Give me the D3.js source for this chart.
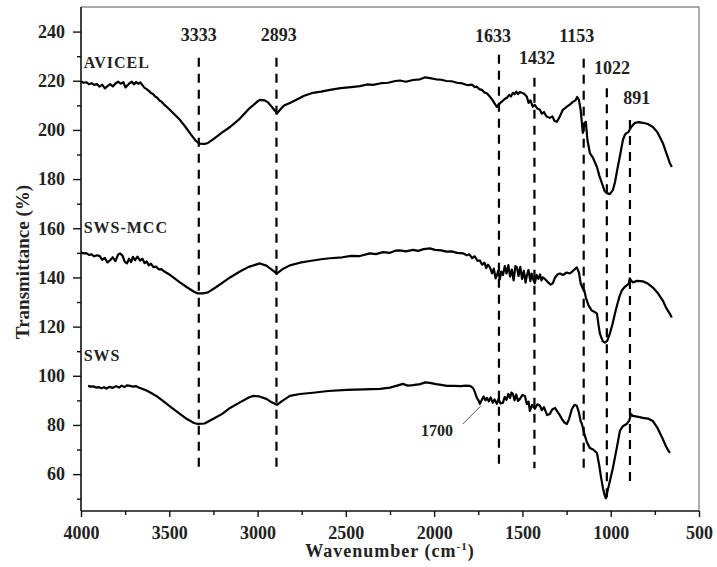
<!DOCTYPE html>
<html>
<head>
<meta charset="utf-8">
<script src="https://cdn.jsdelivr.net/npm/d3@7"></script>
<style>
  body { margin: 0; background: #fff; }
  svg text { font-family: "Liberation Serif", "Times New Roman", serif; font-weight: bold; fill: #222; }
</style>
</head>
<body>
<svg id="svg" width="717" height="567"></svg>
<script>
// spectra: [wavenumber, transmittance]
const avicel = [[4000,219.7],[3985,219.2],[3970,219.4],[3955,218.6],[3940,219.0],[3925,218.3],[3910,218.7],[3895,217.6],[3880,218.4],[3865,216.9],[3850,217.8],[3835,218.6],[3820,217.7],[3805,218.9],[3790,219.6],[3775,218.8],[3760,219.4],[3748,217.3],[3738,218.1],[3725,219.0],[3712,219.6],[3700,218.5],[3688,219.5],[3676,218.8],[3664,219.3],[3652,218.2],[3640,217.1],[3628,216.6],[3616,215.9],[3604,215.0],[3592,214.6],[3580,213.6],[3568,213.1],[3556,212.0],[3544,211.5],[3530,210.4],[3500,208.4],[3470,206.3],[3440,204.1],[3410,201.4],[3380,198.4],[3350,195.6],[3330,194.4],[3300,194.3],[3281,194.7],[3250,196.3],[3200,199.0],[3156,201.2],[3100,204.6],[3050,208.5],[3000,211.6],[2987,212.2],[2960,212.0],[2941,211.2],[2915,209.0],[2890,206.8],[2870,208.4],[2850,209.9],[2817,211.0],[2780,212.3],[2740,213.8],[2686,215.1],[2640,215.6],[2590,216.3],[2530,217.0],[2470,217.4],[2420,217.8],[2380,218.5],[2347,218.3],[2300,219.0],[2260,219.2],[2220,219.9],[2194,220.1],[2160,219.6],[2120,220.3],[2080,220.6],[2050,221.4],[2024,221.1],[1990,220.6],[1960,220.4],[1930,219.9],[1900,219.8],[1871,219.2],[1840,218.9],[1810,218.2],[1785,218.4],[1770,217.4],[1758,217.6],[1745,216.6],[1730,216.3],[1715,215.2],[1700,214.8],[1684,213.5],[1670,212.2],[1658,210.8],[1645,209.4],[1635,210.3],[1625,211.0],[1612,211.8],[1600,212.6],[1588,213.1],[1575,214.2],[1565,213.6],[1554,215.1],[1545,214.5],[1535,215.6],[1525,214.6],[1515,215.4],[1503,215.1],[1490,214.7],[1475,213.5],[1465,211.0],[1455,212.0],[1441,209.4],[1430,210.2],[1415,208.7],[1401,208.2],[1390,206.6],[1378,207.3],[1365,205.6],[1345,204.9],[1330,205.5],[1318,203.6],[1305,203.3],[1290,205.2],[1271,208.2],[1250,209.4],[1230,210.4],[1214,211.4],[1200,212.0],[1190,213.4],[1180,212.2],[1170,208.0],[1158,198.8],[1150,202.6],[1141,203.3],[1132,196.0],[1118,190.6],[1100,188.6],[1078,184.9],[1065,181.5],[1050,178.4],[1035,175.2],[1022,174.3],[1005,173.9],[988,175.5],[975,179.0],[960,184.9],[945,190.4],[931,195.9],[920,198.0],[909,198.8],[900,199.1],[892,200.2],[880,201.5],[863,202.9],[840,203.2],[818,202.9],[790,202.4],[761,201.2],[735,199.0],[705,194.7],[685,190.6],[665,186.5],[654,184.9]];

const swsMcc = [[4000,150.1],[3985,149.8],[3970,149.9],[3955,149.2],[3940,149.4],[3925,148.6],[3910,149.0],[3895,148.8],[3880,147.2],[3865,147.9],[3850,146.1],[3835,147.0],[3820,148.2],[3805,146.6],[3790,149.3],[3779,149.8],[3765,148.9],[3752,146.3],[3740,145.7],[3728,147.6],[3716,146.2],[3706,148.4],[3694,147.0],[3680,148.5],[3666,146.9],[3652,147.6],[3640,145.8],[3628,146.5],[3616,144.9],[3604,145.6],[3590,144.2],[3575,144.4],[3560,143.3],[3545,143.4],[3530,142.5],[3500,141.2],[3470,139.6],[3440,138.0],[3400,136.0],[3360,134.2],[3338,133.5],[3310,133.5],[3281,133.9],[3240,135.8],[3200,137.8],[3156,140.0],[3100,142.4],[3050,144.3],[2987,145.7],[2950,144.8],[2920,143.2],[2890,141.6],[2860,143.3],[2817,144.9],[2760,146.0],[2686,146.9],[2640,147.4],[2590,147.8],[2520,148.2],[2470,148.8],[2420,148.7],[2364,149.8],[2330,149.5],[2290,150.3],[2250,150.0],[2220,150.9],[2194,151.0],[2160,150.6],[2120,151.2],[2090,150.8],[2060,151.5],[2024,151.8],[1995,151.2],[1960,151.0],[1930,150.5],[1900,150.6],[1870,150.0],[1837,149.8],[1815,149.0],[1800,149.4],[1785,147.9],[1770,148.6],[1755,146.8],[1741,146.9],[1728,145.2],[1715,146.0],[1705,143.8],[1695,145.2],[1684,144.1],[1672,141.7],[1662,143.6],[1652,139.6],[1645,140.8],[1637,142.8],[1628,139.2],[1620,142.4],[1610,141.0],[1600,144.6],[1590,141.6],[1580,145.0],[1570,140.4],[1560,143.2],[1550,138.8],[1540,144.6],[1531,144.1],[1522,140.6],[1512,144.3],[1502,139.4],[1492,142.7],[1482,137.9],[1475,140.8],[1466,143.0],[1455,138.5],[1448,141.6],[1441,139.6],[1430,137.6],[1420,141.0],[1410,139.4],[1400,141.2],[1392,138.8],[1384,140.0],[1370,139.2],[1355,138.0],[1340,137.1],[1328,137.6],[1315,140.0],[1300,141.3],[1288,141.6],[1270,141.0],[1250,142.0],[1231,141.6],[1215,142.6],[1200,143.6],[1192,144.1],[1180,142.0],[1170,137.5],[1158,135.5],[1150,134.8],[1140,131.6],[1125,128.5],[1107,126.5],[1090,125.9],[1078,125.3],[1068,120.2],[1061,117.1],[1045,114.0],[1033,113.5],[1020,114.2],[1005,117.1],[990,121.0],[976,125.3],[960,129.8],[950,132.3],[937,134.7],[920,136.2],[909,136.7],[898,137.5],[892,139.6],[885,138.8],[875,138.0],[850,138.6],[818,138.4],[790,137.5],[761,135.9],[735,133.8],[705,130.6],[685,127.5],[665,125.2],[654,123.7]];

const sws = [[3960,95.9],[3945,95.6],[3930,95.7],[3915,95.2],[3900,95.4],[3885,94.9],[3870,95.3],[3855,94.8],[3840,95.5],[3819,95.1],[3800,95.8],[3785,95.2],[3770,96.0],[3755,95.4],[3740,96.1],[3723,95.9],[3705,95.6],[3690,95.8],[3670,95.1],[3650,94.6],[3626,93.9],[3600,92.9],[3570,91.6],[3536,89.8],[3500,87.8],[3470,86.1],[3440,84.5],[3400,82.4],[3360,80.8],[3338,80.4],[3300,80.6],[3253,82.4],[3200,84.5],[3156,86.9],[3100,89.2],[3050,91.2],[3026,91.8],[2990,91.6],[2950,90.6],[2920,89.2],[2890,88.2],[2860,89.8],[2817,91.8],[2760,92.6],[2686,93.1],[2600,93.8],[2494,94.3],[2400,94.5],[2307,94.7],[2250,95.2],[2210,96.0],[2177,96.7],[2150,96.0],[2120,96.2],[2080,96.6],[2050,97.3],[2024,97.1],[1990,96.6],[1960,96.3],[1928,95.9],[1890,95.9],[1850,95.8],[1820,96.0],[1797,95.9],[1780,95.1],[1770,93.5],[1758,91.0],[1748,89.9],[1741,88.6],[1730,90.2],[1720,91.6],[1710,90.0],[1701,91.0],[1690,89.6],[1680,91.2],[1668,89.0],[1658,90.4],[1645,88.6],[1635,90.6],[1625,88.8],[1611,89.0],[1600,91.4],[1590,90.2],[1580,92.6],[1570,91.0],[1562,93.2],[1554,92.7],[1545,90.0],[1535,92.4],[1525,89.8],[1514,90.6],[1500,92.2],[1486,91.8],[1475,88.5],[1465,89.5],[1458,85.7],[1445,88.2],[1430,86.6],[1415,88.4],[1401,87.8],[1390,86.0],[1378,87.2],[1360,84.0],[1345,84.5],[1330,86.4],[1315,86.9],[1305,85.7],[1290,84.2],[1275,82.2],[1262,81.0],[1248,80.4],[1235,82.6],[1220,86.5],[1205,88.2],[1192,87.8],[1180,85.0],[1170,81.5],[1163,80.4],[1150,76.5],[1135,73.0],[1118,70.6],[1100,70.0],[1078,68.6],[1065,63.5],[1055,58.8],[1044,54.3],[1035,51.6],[1027,50.2],[1015,54.0],[1000,58.6],[988,62.4],[975,67.2],[960,72.8],[948,77.6],[930,79.6],[909,80.4],[895,81.8],[885,84.4],[875,83.7],[850,83.4],[818,82.9],[790,82.6],[761,81.6],[735,78.8],[705,74.3],[685,71.0],[665,68.6]];

const seriesNames = ["AVICEL", "SWS-MCC", "SWS"];
const seriesNameAt = [[3985, 225.3], [3985, 158], [3985, 106]];

// marked bands: wavenumber, dashed line from/to (transmittance), label anchor
const peaks = [3333, 2893, 1633, 1432, 1153, 1022, 891];
const peakTop = [229.4, 229.4, 230.6, 221.2, 229.0, 217.0, 204.0];
const peakBottom = [62.4, 62.4, 62.4, 62.4, 60.8, 50.6, 54.7];
const peakLabelAt = [[3333, 236.3], [2880, 236.3], [1667, 235.9], [1418, 226.9], [1192, 235.9], [993, 222.9], [852, 210.6]];

const xTicks = [4000, 3500, 3000, 2500, 2000, 1500, 1000, 500];
const xMinor = [3750, 3250, 2750, 2250, 1750, 1250, 750];
const yTicks = [60, 80, 100, 120, 140, 160, 180, 200, 220, 240];
const yMinor = [50, 70, 90, 110, 130, 150, 170, 190, 210, 230];

const svg = d3.select("#svg");
const L = 81, R = 699, T = 7, B = 511;
const x = d3.scaleLinear().domain([4000, 500]).range([L, R]);
const y = d3.scaleLinear().domain([45, 250]).range([B, T]);

// frame
svg.append("line").attr("x1", L).attr("x2", R).attr("y1", T).attr("y2", T)
   .attr("stroke", "#555").attr("stroke-width", 1.2);
svg.append("line").attr("x1", R).attr("x2", R).attr("y1", T).attr("y2", B)
   .attr("stroke", "#777").attr("stroke-width", 1.2);

// axes
const xAxis = svg.append("g").attr("transform", `translate(0,${B})`)
   .call(d3.axisBottom(x).tickValues(xTicks).tickSize(6).tickPadding(9).tickFormat(d3.format("d")));
svg.append("g").attr("transform", `translate(0,${B})`)
   .call(d3.axisBottom(x).tickValues(xMinor).tickSize(4).tickFormat(""))
   .select(".domain").remove();
const yAxis = svg.append("g").attr("transform", `translate(${L},0)`)
   .call(d3.axisLeft(y).tickValues(yTicks).tickSize(8).tickPadding(8).tickFormat(d3.format("d")));
svg.append("g").attr("transform", `translate(${L},0)`)
   .call(d3.axisLeft(y).tickValues(yMinor).tickSize(4).tickFormat(""))
   .select(".domain").remove();
xAxis.select(".domain").remove();
yAxis.select(".domain").remove();
svg.append("line").attr("x1", L).attr("x2", R).attr("y1", B).attr("y2", B)
   .attr("stroke", "#111").attr("stroke-width", 1.6);
svg.append("line").attr("x1", L).attr("x2", L).attr("y1", T).attr("y2", B)
   .attr("stroke", "#111").attr("stroke-width", 1.6);
svg.selectAll(".tick line").attr("stroke", "#111").attr("stroke-width", 1.4);
svg.selectAll(".tick text").style("font-size", "18px").attr("fill", "#222")
   .style("font-family", "'Liberation Serif', 'Times New Roman', serif").style("font-weight", "bold");

// dashed band markers
svg.selectAll(".peak").data(peaks).join("line")
   .attr("x1", d => x(d)).attr("x2", d => x(d))
   .attr("y1", (d, i) => y(peakTop[i])).attr("y2", (d, i) => y(peakBottom[i]))
   .attr("stroke", "#000").attr("stroke-width", 2.2).attr("stroke-dasharray", "9,7");
svg.selectAll(".peaklab").data(peaks).join("text")
   .attr("x", (d, i) => x(peakLabelAt[i][0])).attr("y", (d, i) => y(peakLabelAt[i][1]))
   .attr("text-anchor", "middle").style("font-size", "18px").text(d => d);

// spectra
const line = d3.line().x(d => x(d[0])).y(d => y(d[1]));
[avicel, swsMcc, sws].forEach(s => {
  svg.append("path").datum(s).attr("d", line)
     .attr("fill", "none").attr("stroke", "#000").attr("stroke-width", 2.2).attr("stroke-linejoin", "round");
});

svg.selectAll(".name").data(seriesNames).join("text")
   .attr("x", (d, i) => x(seriesNameAt[i][0])).attr("y", (d, i) => y(seriesNameAt[i][1]))
   .style("font-size", "16px").style("letter-spacing", "1px").text(d => d);

// 1700 shoulder annotation
svg.append("line").attr("x1", x(1837)).attr("y1", y(80.4)).attr("x2", x(1735)).attr("y2", y(87.8))
   .attr("stroke", "#555").attr("stroke-width", 1);
svg.append("text").attr("x", x(1984)).attr("y", y(75.5)).attr("text-anchor", "middle")
   .style("font-size", "16px").text("1700");

// axis titles
const xt = svg.append("text").attr("x", (L + R) / 2).attr("y", 557).attr("text-anchor", "middle")
   .style("font-size", "18px").style("letter-spacing", "1px");
xt.append("tspan").text("Wavenumber (cm");
xt.append("tspan").attr("dy", -7).style("font-size", "11px").text("-1");
xt.append("tspan").attr("dy", 7).text(")");
svg.append("text").attr("transform", "translate(29,262) rotate(-90)").attr("text-anchor", "middle")
   .style("font-size", "19px").text("Transmittance (%)");
</script>
</body>
</html>
